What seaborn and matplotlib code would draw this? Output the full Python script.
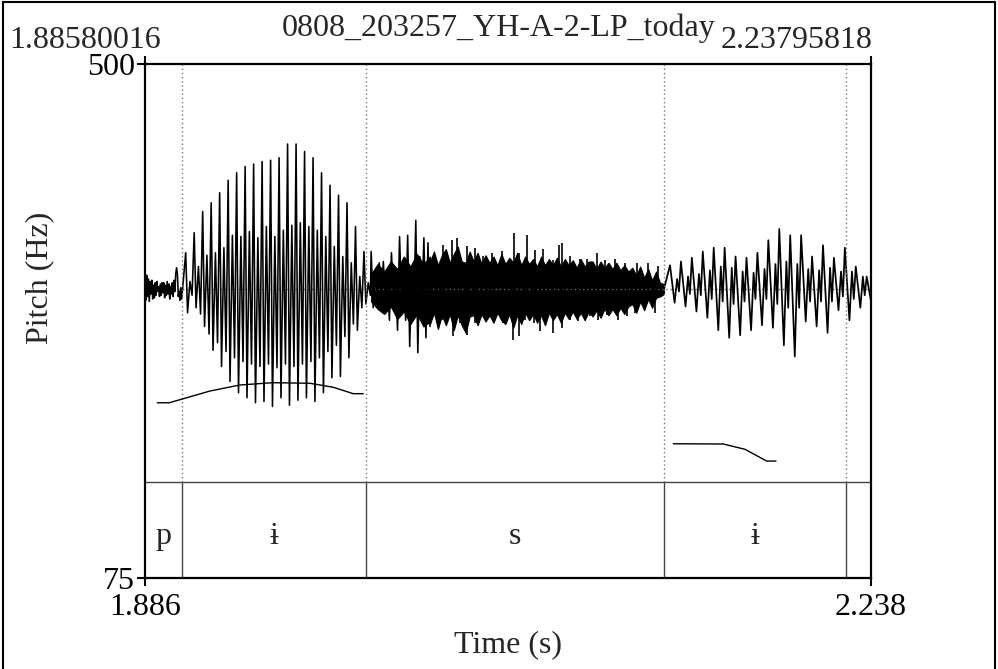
import numpy as np
import matplotlib
matplotlib.use("Agg")
import matplotlib.pyplot as plt
import seaborn as sns
from matplotlib.patches import Rectangle
import matplotlib.transforms as mtransforms

# ---------------------------------------------------------------- data
title = "0808_203257_YH-A-2-LP_today"
t_start, t_end = 1.88580016, 2.23795818
pitch_lo, pitch_hi = 75, 500
x_tick_labels = ["1.886", "2.238"]
y_tick_labels = ["75", "500"]

# TextGrid tier: interval boundaries (s) and interval labels
boundaries = [1.90375, 1.99300, 2.13755, 2.22583]
interval_labels = ["p", "ɨ", "s", "ɨ", ""]

# Pitch track (Hz), two voiced stretches
pitch1_t = [1.89177, 1.89759, 1.91733, 1.93188, 1.94789, 1.96583, 1.97714, 1.98684, 1.99169]
pitch1_hz = [219.9, 219.9, 229.6, 234.6, 236.5, 236.0, 232.7, 227.4, 227.4]
pitch2_t = [2.14206, 2.16631, 2.17684, 2.18736, 2.19187]
pitch2_hz = [186.0, 185.8, 181.4, 171.7, 171.7]

# Waveform: low-level noise before the release
pre_t_range = (1.88580, 1.90360)
pre_amp = [0.05, -0.09, 0.11, -0.06, 0.08, -0.10, 0.06, -0.04, 0.07, -0.08, 0.03, -0.07,
           0.05, -0.05, 0.06, -0.02, 0.02, -0.06, 0.04, -0.05, 0.05, -0.03, 0.05, -0.07,
           0.03, -0.05, 0.06, -0.04, 0.04, -0.08, 0.02, -0.04, 0.05, -0.06, 0.07, -0.02,
           0.12, 0.17, 0.12, -0.06, -0.02, -0.09, 0.01, -0.08]

# First vowel: per glottal cycle extrema (main peak, main trough, second peak, second trough)
v1_cycle_range = (1.90554, 1.99203)
v1_peak = [0.29, 0.45, 0.62, 0.69, 0.77, 0.87, 0.93, 0.98, 1.00, 1.02, 1.03,
           1.05, 1.16, 1.16, 1.10, 1.05, 0.93, 0.83, 0.75, 0.69, 0.50, 0.30]
v1_trough = [-0.19, -0.15, -0.30, -0.49, -0.62, -0.74, -0.83, -0.87, -0.91, -0.90, -0.94,
             -0.87, -0.93, -0.89, -0.87, -0.90, -0.83, -0.71, -0.70, -0.55, -0.33, -0.12]
v1_peak2 = [0.06, 0.18, 0.27, 0.29, 0.33, 0.43, 0.42, 0.46, 0.41, 0.50, 0.42,
            0.47, 0.51, 0.53, 0.50, 0.47, 0.42, 0.34, 0.26, 0.21, 0.10, 0.05]
v1_trough2 = [-0.05, -0.20, -0.36, -0.43, -0.50, -0.55, -0.58, -0.60, -0.62, -0.60, -0.63,
              -0.60, -0.62, -0.60, -0.58, -0.55, -0.50, -0.45, -0.38, -0.28, -0.15, -0.05]

# Fricative onset: individual extrema over a noise band
fric_onset_range = (1.99550, 2.02404)
fric_onset_amp = [0.30, -0.15, 0.12, -0.05, 0.21, -0.10, 0.22, -0.09, 0.09, -0.25,
                  0.29, -0.06, 0.10, -0.33, 0.42, -0.10, 0.13, -0.25, 0.43, -0.46,
                  0.15, -0.19, 0.55, -0.51, 0.26, -0.11, 0.41, -0.39, 0.37, -0.30]
fric_onset_upper = [0.12, 0.20, 0.14, 0.22, 0.16, 0.26, 0.18, 0.28, 0.20, 0.26]
fric_onset_lower = [-0.10, -0.16, -0.20, -0.14, -0.24, -0.18, -0.28, -0.20, -0.30, -0.26]

# Fricative body: dense noise envelope (sampled evenly) plus the strongest excursions
fric_range = (2.02404, 2.13755)
fric_upper = [0.22, 0.30, 0.19, 0.27, 0.32, 0.21,
              0.28, 0.34, 0.22, 0.21, 0.30,
              0.22, 0.29, 0.20, 0.27, 0.21,
              0.26, 0.19, 0.28, 0.20, 0.25,
              0.21, 0.29, 0.19, 0.26, 0.20,
              0.24, 0.18, 0.26, 0.19, 0.24,
              0.19, 0.25, 0.18, 0.24, 0.19,
              0.23, 0.17, 0.24, 0.18, 0.22,
              0.22, 0.16, 0.22, 0.17, 0.21,
              0.16, 0.21, 0.15, 0.19, 0.14,
              0.17, 0.11, 0.18, 0.09, 0.16,
              0.07, 0.14, 0.05, 0.04]
fric_lower = [-0.28, -0.19, -0.32, -0.21, -0.29, -0.20,
              -0.33, -0.21, -0.29, -0.35, -0.22,
              -0.21, -0.29, -0.20, -0.26, -0.21,
              -0.27, -0.19, -0.25, -0.28, -0.20,
              -0.31, -0.21, -0.28, -0.19, -0.25,
              -0.20, -0.27, -0.21, -0.29, -0.19,
              -0.25, -0.20, -0.27, -0.19, -0.24,
              -0.18, -0.24, -0.19, -0.25, -0.18,
              -0.22, -0.17, -0.23, -0.16, -0.21,
              -0.16, -0.21, -0.15, -0.20, -0.14,
              -0.12, -0.19, -0.10, -0.17, -0.08,
              -0.15, -0.07, -0.06, -0.04]
spike_up_t = [2.02729, 2.03035, 2.03457, 2.03699, 2.04185, 2.04587, 2.04975, 2.05397, 2.05882,
              2.06479, 2.06721, 2.07095, 2.07498, 2.07886, 2.08371, 2.08662, 2.08807, 2.09195,
              2.09680, 2.10020, 2.10505, 2.10893, 2.11378, 2.11863, 2.12445, 2.12979, 2.13464]
spike_up_amp = [0.19, 0.35, 0.39, 0.41, 0.34, 0.33, 0.26, 0.29, 0.30, 0.45, 0.29, 0.43, 0.31, 0.32,
                0.23, 0.35, 0.37, 0.26, 0.24, 0.24, 0.29, 0.23, 0.24, 0.21, 0.21, 0.21, 0.18]
spike_dn_t = [2.02729, 2.02972, 2.03520, 2.03860, 2.04199, 2.04587, 2.05155, 2.05460, 2.05945,
              2.06430, 2.06721, 2.07012, 2.07449, 2.07740, 2.08371, 2.08807, 2.09195, 2.09583,
              2.10165, 2.10553, 2.10990, 2.11524, 2.11960, 2.12348, 2.12833, 2.13318]
spike_dn_amp = [-0.27, -0.25, -0.38, -0.27, -0.37, -0.27, -0.25, -0.23, -0.27, -0.41, -0.38, -0.25,
                -0.27, -0.34, -0.35, -0.31, -0.25, -0.26, -0.22, -0.25, -0.21, -0.25, -0.22,
                -0.19, -0.14, -0.19]

# Second vowel: per glottal cycle extrema
v2_cycle_range = (2.14046, 2.23587)
v2_peak = [0.19, 0.22, 0.25, 0.30, 0.33, 0.33, 0.26, 0.25, 0.29, 0.39,
           0.48, 0.43, 0.43, 0.26, 0.35, 0.25, 0.33, 0.18, 0.10]
v2_trough = [-0.11, -0.14, -0.18, -0.23, -0.33, -0.39, -0.37, -0.33, -0.29, -0.31,
             -0.45, -0.54, -0.26, -0.30, -0.35, -0.17, -0.25, -0.15, -0.11]
v2_peak2 = [0.08, 0.10, 0.12, 0.15, 0.18, 0.17, 0.14, 0.13, 0.16, 0.20,
            0.22, 0.20, 0.16, 0.15, 0.17, 0.14, 0.14, 0.10, 0.06]
v2_trough2 = [-0.02, -0.04, -0.05, -0.08, -0.10, -0.12, -0.10, -0.08, -0.08, -0.12,
              -0.15, -0.15, -0.10, -0.10, -0.10, -0.06, -0.08, -0.05, -0.04]


def glottal_cycles(t_range, parts, phase):
    """Place the extrema of each cycle at fixed fractions of the period."""
    n = len(parts[0])
    starts = np.linspace(t_range[0], t_range[1], n)
    period = (t_range[1] - t_range[0]) / (n - 1)
    t = (starts[:, None] + period * np.asarray(phase)[None, :]).ravel()
    a = np.column_stack(parts).ravel()
    return t, a


pre_t = np.linspace(*pre_t_range, len(pre_amp))
v1_t, v1_a = glottal_cycles(v1_cycle_range, [v1_peak, v1_trough, v1_peak2, v1_trough2],
                            [0.0, 0.22, 0.5, 0.75])
fo_t = np.linspace(*fric_onset_range, len(fric_onset_amp))
fo_env_t = np.linspace(*fric_onset_range, len(fric_onset_upper))
fric_t = np.linspace(*fric_range, len(fric_upper))
v2_t, v2_a = glottal_cycles(v2_cycle_range, [v2_peak, v2_trough, v2_peak2, v2_trough2],
                            [0.0, 0.42, 0.65, 0.82])

wave1_t = np.concatenate([pre_t, v1_t, fo_t])
wave1_a = np.concatenate([pre_amp, v1_a, fric_onset_amp])
wave2_t = np.concatenate([[fric_range[1]], v2_t])
wave2_a = np.concatenate([[0.0], v2_a])

# ---------------------------------------------------------------- style
sns.set_style("white")
plt.rcParams["font.family"] = ["Liberation Serif", "DejaVu Serif"]
FS = 23
plt.rcParams["font.size"] = FS

W, H = 998, 669
fig = plt.figure(figsize=(W / 100, H / 100), dpi=100)
fig.patch.set_facecolor("white")

# plot box in pixels: x 145..871, y 64..578
ax = fig.add_axes([145 / W, 1 - 578 / H, 726 / W, 514 / H])
ax.set_xlim(t_start, t_end)
ax.set_ylim(pitch_lo, pitch_hi)
for s in ax.spines.values():
    s.set_linewidth(1.6)
    s.set_color("black")
    s.set_visible(True)

tier_top = (578 - 482) / 514      # TextGrid tier occupies the bottom of the box

ax.set_xticks([t_start, t_end])
ax.set_xticklabels(x_tick_labels)
ax.set_yticks([pitch_lo, pitch_hi])
ax.set_yticklabels(y_tick_labels)
ax.tick_params(axis="x", direction="out", length=6, width=1.5, bottom=True, top=True,
               labelsize=FS, pad=5, colors="black")
ax.tick_params(axis="y", direction="out", length=6, width=1.5, left=True,
               labelsize=FS, pad=1, colors="black")
ax.grid(False)

# tier line and interval boundaries
ax.axhline(pitch_lo + tier_top * (pitch_hi - pitch_lo), color="#444444", lw=1.0)
for b in boundaries:
    ax.axvline(b, ymin=0, ymax=tier_top, color="#444444", lw=1.0)
    ax.axvline(b, ymin=tier_top, ymax=1, color="#777777", lw=1.0, ls=(0, (1, 2)))

edges = [t_start] + boundaries + [t_end]
blend = mtransforms.blended_transform_factory(ax.transData, ax.transAxes)
for lab, a, b in zip(interval_labels, edges[:-1], edges[1:]):
    if lab:
        ax.text((a + b) / 2, tier_top * 0.43, lab, transform=blend, ha="center",
                va="center", fontsize=FS)

# waveform on its own amplitude scale sharing the time axis
axw = ax.twinx()
axw.set_ylim(-(578 - 289) / 125, (289 - 64) / 125)
axw.set_yticks([])
for s in axw.spines.values():
    s.set_visible(False)
axw.axhline(0, color="#666666", lw=1.0, ls=(0, (1, 2)))

axw.fill_between(fo_env_t, fric_onset_lower, fric_onset_upper, color="black", lw=0.8)
axw.fill_between(fric_t, fric_lower, fric_upper, color="black", lw=0.8)
axw.vlines(spike_up_t, 0, spike_up_amp, color="black", lw=1.2)
axw.vlines(spike_dn_t, spike_dn_amp, 0, color="black", lw=1.2)
sns.lineplot(x=wave1_t, y=wave1_a, ax=axw, color="black", lw=1.15,
             estimator=None, sort=False)
sns.lineplot(x=wave2_t, y=wave2_a, ax=axw, color="black", lw=1.25,
             estimator=None, sort=False)
axw.set_ylabel("")

# pitch contours
sns.lineplot(x=pitch1_t, y=pitch1_hz, ax=ax, color="black", lw=1.0,
             estimator=None, sort=False)
sns.lineplot(x=pitch2_t, y=pitch2_hz, ax=ax, color="black", lw=1.0,
             estimator=None, sort=False)
ax.set_zorder(axw.get_zorder() + 1)
ax.patch.set_visible(False)
ax.set_xlabel("")
ax.set_ylabel("")

# texts around the box
fig.text(0.5, 1 - 28 / H, title, ha="center", va="center", fontsize=FS)
fig.text(9 / W, 1 - 41 / H, f"{t_start:.8f}", ha="left", va="center", fontsize=FS)
fig.text(872 / W, 1 - 41 / H, f"{t_end:.8f}", ha="right", va="center", fontsize=FS)
fig.text(508 / W, 1 - 645 / H, "Time (s)", ha="center", va="center", fontsize=FS)
fig.text(40 / W, 1 - 278 / H, "Pitch (Hz)", ha="center", va="center", rotation=90,
         fontsize=FS)

# outer frame
fig.add_artist(Rectangle((3 / W, -0.05), 992 / W, 1.05 - 2 / H, transform=fig.transFigure,
                         fill=False, lw=1.5, ec="black"))

fig.savefig("out.png", dpi=100, facecolor="white")
